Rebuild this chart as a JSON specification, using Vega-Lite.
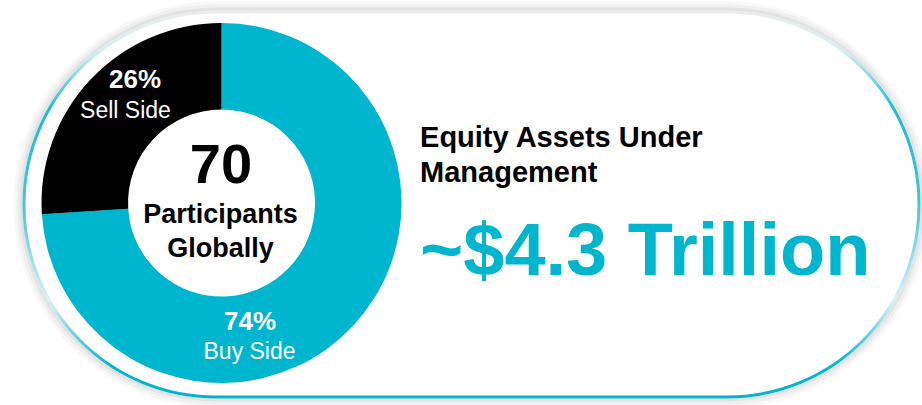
{
  "$schema": "https://vega.github.io/schema/vega-lite/v6.json",
  "width": 895,
  "height": 385,
  "autosize": {"type": "none"},
  "padding": {"left": 24, "top": 12, "right": 3, "bottom": 8},
  "background": "white",
  "data": {"values": [{}]},
  "config": {
    "font": "Liberation Sans",
    "view": {
      "fill": "white",
      "cornerRadius": 192,
      "strokeWidth": 3,
      "stroke": {
        "gradient": "linear",
        "x1": 0, "y1": 0, "x2": 0, "y2": 1,
        "stops": [
          {"offset": 0, "color": "#ececec"},
          {"offset": 0.1, "color": "#d4f1f6"},
          {"offset": 0.25, "color": "#1bbcd3"},
          {"offset": 0.5, "color": "#3fc6da"},
          {"offset": 0.75, "color": "#daf3f7"},
          {"offset": 0.92, "color": "#00B5CE"},
          {"offset": 1, "color": "#00B5CE"}
        ]
      }
    }
  },
  "layer": [
    {
      "mark": {"type": "rect", "fill": null, "stroke": "#9a9a9a", "strokeWidth": 3, "strokeOpacity": 0.28, "cornerRadius": 195},
      "encoding": {
        "x": {"datum": -0.335, "type": "quantitative", "scale": {"domain": [0, 100]}, "axis": null},
        "x2": {"datum": 100.335},
        "y": {"datum": -0.78, "type": "quantitative", "scale": {"domain": [0, 100], "reverse": true}, "axis": null},
        "y2": {"datum": 100.78}
      }
    },
    {
      "mark": {"type": "rect", "fill": null, "stroke": "#9a9a9a", "strokeWidth": 3, "strokeOpacity": 0.16, "cornerRadius": 198},
      "encoding": {
        "x": {"datum": -0.67, "type": "quantitative"},
        "x2": {"datum": 100.67},
        "y": {"datum": -1.56, "type": "quantitative"},
        "y2": {"datum": 101.56}
      }
    },
    {
      "mark": {"type": "rect", "fill": null, "stroke": "#9a9a9a", "strokeWidth": 3, "strokeOpacity": 0.07, "cornerRadius": 201},
      "encoding": {
        "x": {"datum": -1.0, "type": "quantitative"},
        "x2": {"datum": 101.0},
        "y": {"datum": -2.34, "type": "quantitative"},
        "y2": {"datum": 102.34}
      }
    },
    {
      "data": {"values": [
        {"segment": "Buy Side", "share": 0.74},
        {"segment": "Sell Side", "share": 0.26}
      ]},
      "mark": {"type": "arc", "outerRadius": 180, "innerRadius": 93.5},
      "encoding": {
        "theta": {"field": "share", "type": "quantitative", "stack": true},
        "order": {"field": "share", "sort": "descending"},
        "color": {"field": "segment", "type": "nominal", "legend": null,
          "scale": {"domain": ["Buy Side", "Sell Side"], "range": ["#00B5CE", "#000000"]}},
        "x": {"datum": 22.07, "type": "quantitative"},
        "y": {"datum": 49.6, "type": "quantitative"}
      }
    },
    {
      "mark": {"type": "text", "text": "26%", "font": "Liberation Sans", "fontWeight": "bold", "fontSize": 26, "color": "white", "align": "center", "baseline": "alphabetic"},
      "encoding": {
        "x": {"datum": 12.4, "type": "quantitative"},
        "y": {"datum": 19.74, "type": "quantitative"}
      }
    },
    {
      "mark": {"type": "text", "text": "Sell Side", "font": "Liberation Sans", "fontSize": 23, "color": "white", "align": "center", "baseline": "alphabetic"},
      "encoding": {
        "x": {"datum": 11.34, "type": "quantitative"},
        "y": {"datum": 27.53, "type": "quantitative"}
      }
    },
    {
      "mark": {"type": "text", "text": "74%", "font": "Liberation Sans", "fontWeight": "bold", "fontSize": 26, "color": "white", "align": "center", "baseline": "alphabetic"},
      "encoding": {
        "x": {"datum": 25.25, "type": "quantitative"},
        "y": {"datum": 82.6, "type": "quantitative"}
      }
    },
    {
      "mark": {"type": "text", "text": "Buy Side", "font": "Liberation Sans", "fontSize": 23, "color": "white", "align": "center", "baseline": "alphabetic"},
      "encoding": {
        "x": {"datum": 25.2, "type": "quantitative"},
        "y": {"datum": 90.13, "type": "quantitative"}
      }
    },
    {
      "mark": {"type": "text", "text": "70", "font": "Liberation Sans", "fontWeight": "bold", "fontSize": 56, "color": "black", "align": "center", "baseline": "alphabetic"},
      "encoding": {
        "x": {"datum": 22.01, "type": "quantitative"},
        "y": {"datum": 44.42, "type": "quantitative"}
      }
    },
    {
      "mark": {"type": "text", "text": ["Participants", "Globally"], "lineHeight": 34, "font": "Liberation Sans", "fontWeight": "bold", "fontSize": 27, "color": "black", "align": "center", "baseline": "alphabetic"},
      "encoding": {
        "x": {"datum": 21.95, "type": "quantitative"},
        "y": {"datum": 54.81, "type": "quantitative"}
      }
    },
    {
      "mark": {"type": "text", "text": ["Equity Assets Under", "Management"], "lineHeight": 35, "font": "Liberation Sans", "fontWeight": "bold", "fontSize": 29, "color": "black", "align": "left", "baseline": "alphabetic"},
      "encoding": {
        "x": {"datum": 44.25, "type": "quantitative"},
        "y": {"datum": 35.06, "type": "quantitative"}
      }
    },
    {
      "mark": {"type": "text", "text": "~$4.3 Trillion", "font": "Liberation Sans", "fontWeight": "bold", "fontSize": 74, "color": "#00B5CE", "align": "left", "baseline": "alphabetic"},
      "encoding": {
        "x": {"datum": 44.25, "type": "quantitative"},
        "y": {"datum": 68.31, "type": "quantitative"}
      }
    }
  ]
}
